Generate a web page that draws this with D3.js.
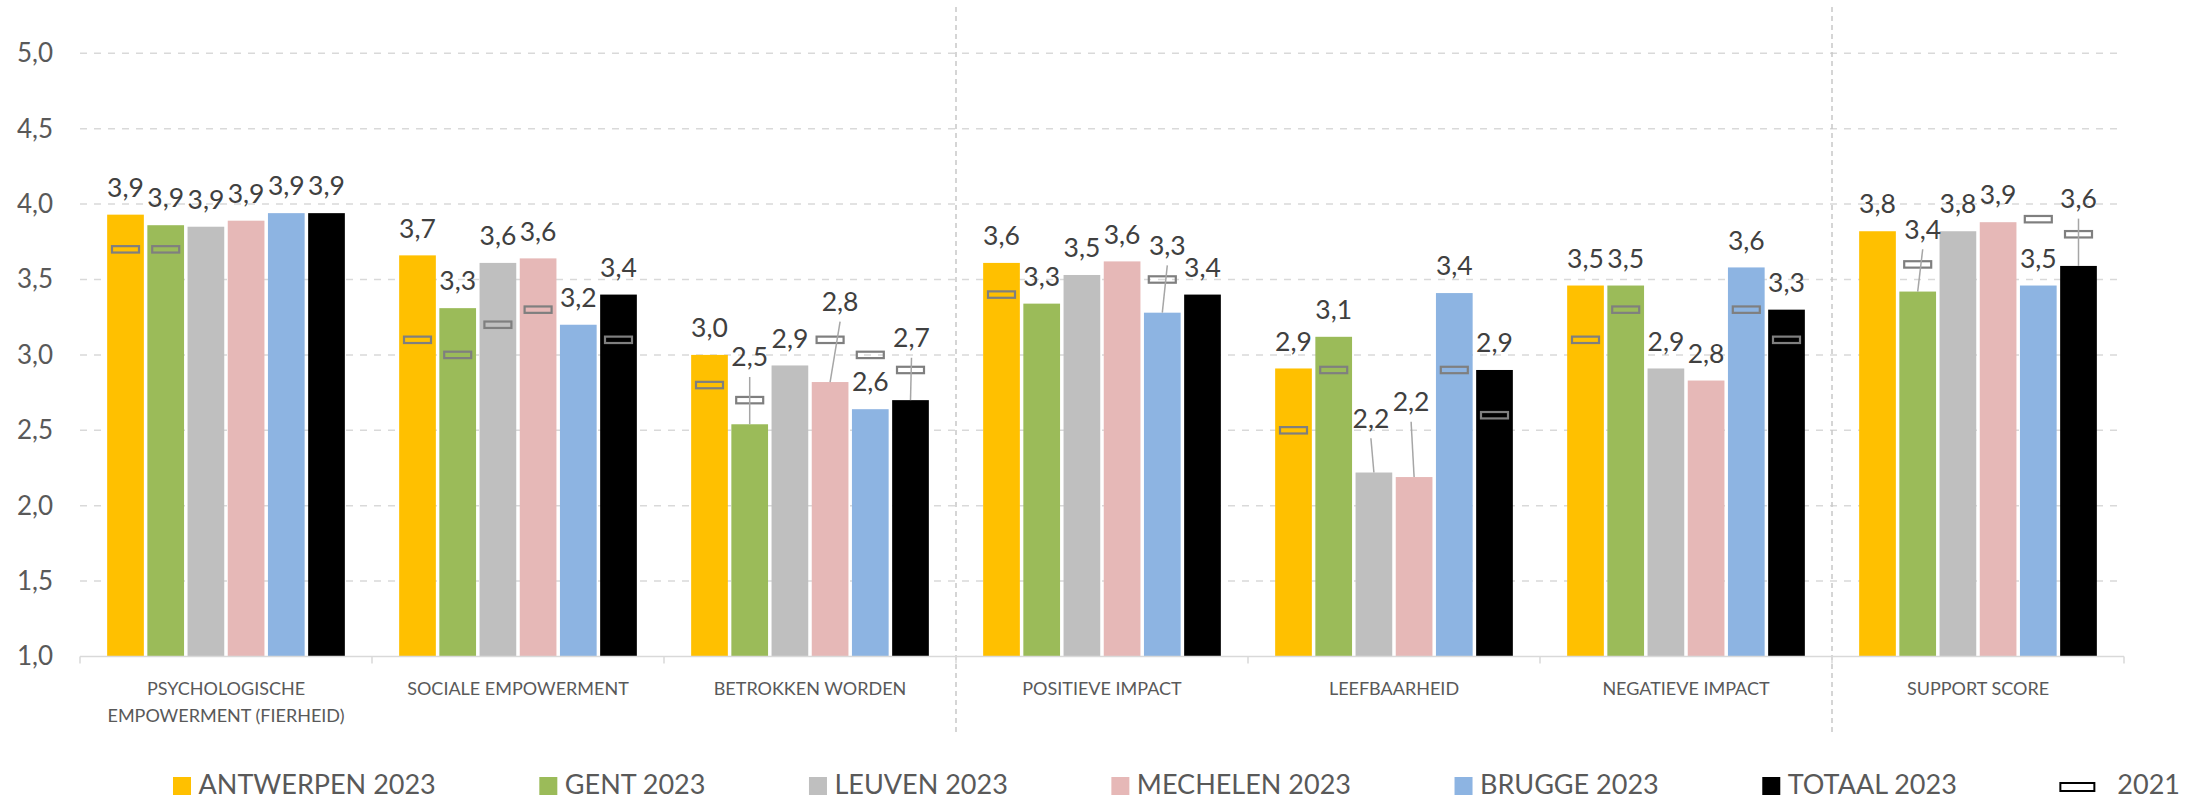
<!DOCTYPE html>
<html>
<head>
<meta charset="utf-8">
<script src="https://cdn.jsdelivr.net/npm/d3@7"></script>
<style>
  body { margin: 0; background: #fff; }
  svg text { font-family: Lato, "Open Sans", sans-serif; }
</style>
</head>
<body>
<svg id="chart" width="2207" height="801"></svg>
<script>
// categories (multi-line labels split into lines)
const categories = [
    ["PSYCHOLOGISCHE", "EMPOWERMENT (FIERHEID)"],
    ["SOCIALE EMPOWERMENT"],
    ["BETROKKEN WORDEN"],
    ["POSITIEVE IMPACT"],
    ["LEEFBAARHEID"],
    ["NEGATIEVE IMPACT"],
    ["SUPPORT SCORE"]
];
const seriesNames = ["ANTWERPEN 2023", "GENT 2023", "LEUVEN 2023", "MECHELEN 2023", "BRUGGE 2023", "TOTAAL 2023"];
const seriesColors = ["#FFC000", "#9BBB59", "#BFBFBF", "#E6B8B7", "#8DB4E2", "#000000"];

// 2023 scores
const antwerpen = [3.93, 3.66, 3.00, 3.61, 2.91, 3.46, 3.82];
const gent      = [3.86, 3.31, 2.54, 3.34, 3.12, 3.46, 3.42];
const leuven    = [3.85, 3.61, 2.93, 3.53, 2.22, 2.91, 3.82];
const mechelen  = [3.89, 3.64, 2.82, 3.62, 2.19, 2.83, 3.88];
const brugge    = [3.94, 3.20, 2.64, 3.28, 3.41, 3.58, 3.46];
const totaal    = [3.94, 3.40, 2.70, 3.40, 2.90, 3.30, 3.59];

// 2021 scores (null = no marker)
const antwerpen2021 = [3.7, 3.1, 2.8, 3.4, 2.5, 3.1, null];
const gent2021      = [3.7, 3.0, 2.7, null, 2.9, 3.3, 3.6];
const leuven2021    = [null, 3.2, null, null, null, null, null];
const mechelen2021  = [null, 3.3, 3.1, null, null, null, null];
const brugge2021    = [null, null, 3.0, 3.5, 2.9, 3.3, 3.9];
const totaal2021    = [null, 3.1, 2.9, null, 2.6, 3.1, 3.8];

const yTicks = [1, 1.5, 2, 2.5, 3, 3.5, 4, 4.5, 5];
const prevLabel = "2021";

// data labels that were dragged away from the bar (with leader line)
const labelNudges = [
    { cat: 2, s: 1, dx: 0, dy: -40 },
    { cat: 2, s: 3, dx: 10, dy: -53 },
    { cat: 2, s: 5, dx: 1, dy: -35 },
    { cat: 3, s: 4, dx: 5, dy: -40 },
    { cat: 4, s: 2, dx: -3, dy: -27 },
    { cat: 4, s: 3, dx: -3, dy: -48 },
    { cat: 6, s: 1, dx: 5, dy: -35 },
    { cat: 6, s: 5, dx: 0, dy: -40 }
];

const current = [antwerpen, gent, leuven, mechelen, brugge, totaal];
const previous = [antwerpen2021, gent2021, leuven2021, mechelen2021, brugge2021, totaal2021];
const series = seriesNames.map((name, i) => ({
    name, color: seriesColors[i], values: current[i], prev: previous[i]
}));

const fmt = (v) => d3.format(".1f")(v).replace(".", ",");

const svg = d3.select("#chart");
const plotLeft = 80, plotRight = 2124, plotTop = 53.3, plotBottom = 656.5;
const groupWidth = 237.7;

const x0 = d3.scaleBand().domain(d3.range(categories.length)).range([plotLeft, plotRight]).padding(0);
const x1 = d3.scaleBand().domain(d3.range(series.length)).range([0, groupWidth]).paddingInner(0.087).paddingOuter(0);
const groupOffset = (x0.bandwidth() - groupWidth) / 2;
const y = d3.scaleLinear().domain([1, 5]).range([plotBottom, plotTop]);

const barX = (c, s) => x0(c) + groupOffset + x1(s);
const barCx = (c, s) => barX(c, s) + x1.bandwidth() / 2;

// gridlines
svg.append("g")
    .selectAll("line")
    .data(yTicks.filter((t) => t > 1))
    .join("line")
    .attr("x1", plotLeft).attr("x2", plotRight)
    .attr("y1", (d) => y(d)).attr("y2", (d) => y(d))
    .attr("stroke", "#D9D9D9")
    .attr("stroke-width", 1.5)
    .attr("stroke-dasharray", "7,7");

// y axis labels
const yAxis = svg.append("g")
    .attr("transform", `translate(${plotLeft},0)`)
    .call(d3.axisLeft(y).tickValues(yTicks).tickSize(0).tickPadding(27).tickFormat(fmt));
yAxis.select(".domain").remove();
yAxis.selectAll("text")
    .attr("fill", "#595959")
    .style("font-family", "Lato, sans-serif")
    .style("font-size", "26px");

// vertical section separators
svg.append("g")
    .selectAll("line")
    .data([3, 6])
    .join("line")
    .attr("x1", (d) => x0(d)).attr("x2", (d) => x0(d))
    .attr("y1", 7).attr("y2", 732)
    .attr("stroke", "#C8C8C8")
    .attr("stroke-width", 1.5)
    .attr("stroke-dasharray", "5,4");

// bars
const groups = svg.append("g")
    .selectAll("g")
    .data(series)
    .join("g")
    .attr("fill", (d) => d.color);

groups.selectAll("rect")
    .data((d, s) => d.values.map((v, c) => ({ v, c, s })))
    .join("rect")
    .attr("x", (d) => barX(d.c, d.s))
    .attr("width", x1.bandwidth())
    .attr("y", (d) => y(d.v))
    .attr("height", (d) => y(1) - y(d.v));

// x axis line + ticks
const xAxis = svg.append("g").attr("stroke", "#D9D9D9").attr("stroke-width", 1.5);
xAxis.append("line")
    .attr("x1", plotLeft).attr("x2", plotRight)
    .attr("y1", plotBottom).attr("y2", plotBottom);
xAxis.selectAll("line.tick")
    .data(d3.range(categories.length + 1))
    .join("line")
    .attr("class", "tick")
    .attr("x1", (d) => plotLeft + d * x0.bandwidth()).attr("x2", (d) => plotLeft + d * x0.bandwidth())
    .attr("y1", plotBottom).attr("y2", plotBottom + 7);

// category labels
const catLabels = svg.append("g")
    .selectAll("text")
    .data(categories)
    .join("text")
    .attr("text-anchor", "middle")
    .attr("fill", "#595959")
    .style("font-size", "18px");
catLabels.selectAll("tspan")
    .data((d, i) => d.map((line) => ({ line, i })))
    .join("tspan")
    .attr("x", (d) => x0(d.i) + x0.bandwidth() / 2)
    .attr("y", (d, j) => 695 + j * 27)
    .text((d) => d.line);

// 2021 markers
const markers = [];
series.forEach((sr, s) => sr.prev.forEach((p, c) => { if (p != null) markers.push({ p, c, s }); }));
svg.append("g")
    .selectAll("rect")
    .data(markers)
    .join("rect")
    .attr("x", (d) => barCx(d.c, d.s) - 13.5)
    .attr("y", (d) => y(d.p) - 3.2)
    .attr("width", 27)
    .attr("height", 6.4)
    .attr("fill", "none")
    .attr("stroke", "#7F7F7F")
    .attr("stroke-width", 2.2);

// data labels + leader lines
const labels = [];
series.forEach((sr, s) => sr.values.forEach((v, c) => {
    const n = labelNudges.find((k) => k.cat === c && k.s === s);
    const cx = barCx(c, s);
    const cy = y(v) - 27.3;
    labels.push({
        v, c, s, bx: cx, by: y(v),
        lx: cx + (n ? n.dx : 0), ly: cy + (n ? n.dy : 0), moved: !!n
    });
}));

svg.append("g")
    .selectAll("line")
    .data(labels.filter((d) => d.moved))
    .join("line")
    .attr("x1", (d) => d.lx).attr("y1", (d) => d.ly + 20)
    .attr("x2", (d) => d.bx).attr("y2", (d) => d.by)
    .attr("stroke", "#A6A6A6")
    .attr("stroke-width", 1.5);

svg.append("g")
    .selectAll("text")
    .data(labels)
    .join("text")
    .attr("x", (d) => d.lx)
    .attr("y", (d) => d.ly + 9.5)
    .attr("text-anchor", "middle")
    .attr("fill", "#404040")
    .style("font-size", "26.5px")
    .text((d) => fmt(d.v));

// legend
const legendItems = series.map((d) => ({ name: d.name, color: d.color, marker: false }))
    .concat([{ name: prevLabel, color: "#fff", marker: true }]);
const legend = svg.append("g");
const entries = legend.selectAll("g")
    .data(legendItems)
    .join("g");
entries.append("rect")
    .attr("x", 0)
    .attr("y", (d) => (d.marker ? 783 : 777))
    .attr("width", (d) => (d.marker ? 34 : 18))
    .attr("height", (d) => (d.marker ? 8 : 18))
    .attr("fill", (d) => d.color)
    .attr("stroke", (d) => (d.marker ? "#000" : "none"))
    .attr("stroke-width", 2);
entries.append("text")
    .attr("x", (d) => (d.marker ? 57 : 25.5))
    .attr("y", 794)
    .attr("fill", "#595959")
    .style("font-size", "27px")
    .text((d) => d.name);

// spread entries between the measured legend edges
const legendStart = 173, legendEnd = 2180;
const widths = [];
entries.each(function (d) {
    const t = d3.select(this).select("text");
    widths.push((d.marker ? 57 : 25.5) + t.node().getComputedTextLength());
});
const gap = (legendEnd - legendStart - d3.sum(widths)) / (widths.length - 1);
let cursor = legendStart;
entries.attr("transform", (d, i) => {
    const tx = cursor;
    cursor += widths[i] + gap;
    return `translate(${tx},0)`;
});
</script>
</body>
</html>
